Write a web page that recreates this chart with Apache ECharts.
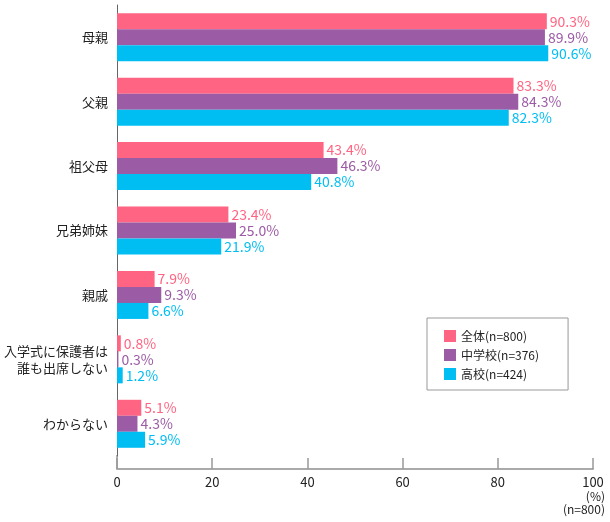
<!DOCTYPE html>
<html><head><meta charset="utf-8">
<script src="https://cdn.jsdelivr.net/npm/echarts@6/dist/echarts.min.js"></script>
<style>html,body{margin:0;padding:0;background:#fff}#c{width:610px;height:522px}</style>
</head><body><div id="c"></div>
<script>
const categories = ['母親','父親','祖父母','兄弟姉妹','親戚','入学式に保護者は\n誰も出席しない','わからない'];
const seriesNames = ['全体(n=800)','中学校(n=376)','高校(n=424)'];
const allValues = [90.3, 83.3, 43.4, 23.4, 7.9, 0.8, 5.1];
const juniorValues = [89.9, 84.3, 46.3, 25.0, 9.3, 0.3, 4.3];
const highValues = [90.6, 82.3, 40.8, 21.9, 6.6, 1.2, 5.9];
const xTicks = [0, 20, 40, 60, 80, 100];
const colors = ['#FF6482', '#9C5BA5', '#00BEF2'];
const font = '"Noto Sans CJK JP", "Noto Sans", sans-serif';

const chart = echarts.init(document.getElementById('c'), null, {renderer: 'canvas'});
const data = [allValues, juniorValues, highValues];
chart.setOption({
  animation: false,
  textStyle: {fontFamily: font},
  grid: {left: 117, right: 17, top: 5, bottom: 66},
  legend: {
    orient: 'vertical', left: 427, top: 318,
    padding: [12, 29, 10, 17],
    borderColor: '#999', borderWidth: 1,
    itemWidth: 12, itemHeight: 12, itemGap: 7,
    icon: 'rect',
    textStyle: {fontSize: 12, color: '#222', fontFamily: font},
    data: seriesNames
  },
  xAxis: {
    type: 'value', min: xTicks[0], max: xTicks[xTicks.length-1], interval: 20,
    offset: 13,
    axisLine: {show: true, lineStyle: {color: '#aaa', width: 2}},
    axisTick: {show: true, inside: true, length: 11, lineStyle: {color: '#999', width: 1.5}},
    axisLabel: {color: '#222', fontSize: 13, margin: 7, fontFamily: font},
    splitLine: {show: false}
  },
  yAxis: {
    type: 'category', data: categories, inverse: true,
    axisLine: {show: true, lineStyle: {color: '#666', width: 1}},
    axisTick: {show: false},
    axisLabel: {color: '#222', fontSize: 13, margin: 9, lineHeight: 17, fontFamily: font}
  },
  graphic: [
    {type: 'line', shape: {x1: 117, y1: 455, x2: 117, y2: 469}, style: {stroke: '#666', lineWidth: 1}},
    {type: 'text', right: 5, top: 490, style: {text: '(%)', fill: '#222', font: '12px ' + font, textAlign: 'right'}},
    {type: 'text', right: 5, top: 503, style: {text: '(n=800)', fill: '#222', font: '12px ' + font, textAlign: 'right'}}
  ],
  series: seriesNames.map((n, i) => ({
    name: n, type: 'bar', data: data[i],
    barWidth: 16, barGap: '0%',
    itemStyle: {color: colors[i]},
    label: {show: true, position: 'right', distance: 3, color: colors[i], fontSize: 14,
      fontFamily: font, formatter: p => p.value.toFixed(1) + '%'}
  }))
});
</script></body></html>
